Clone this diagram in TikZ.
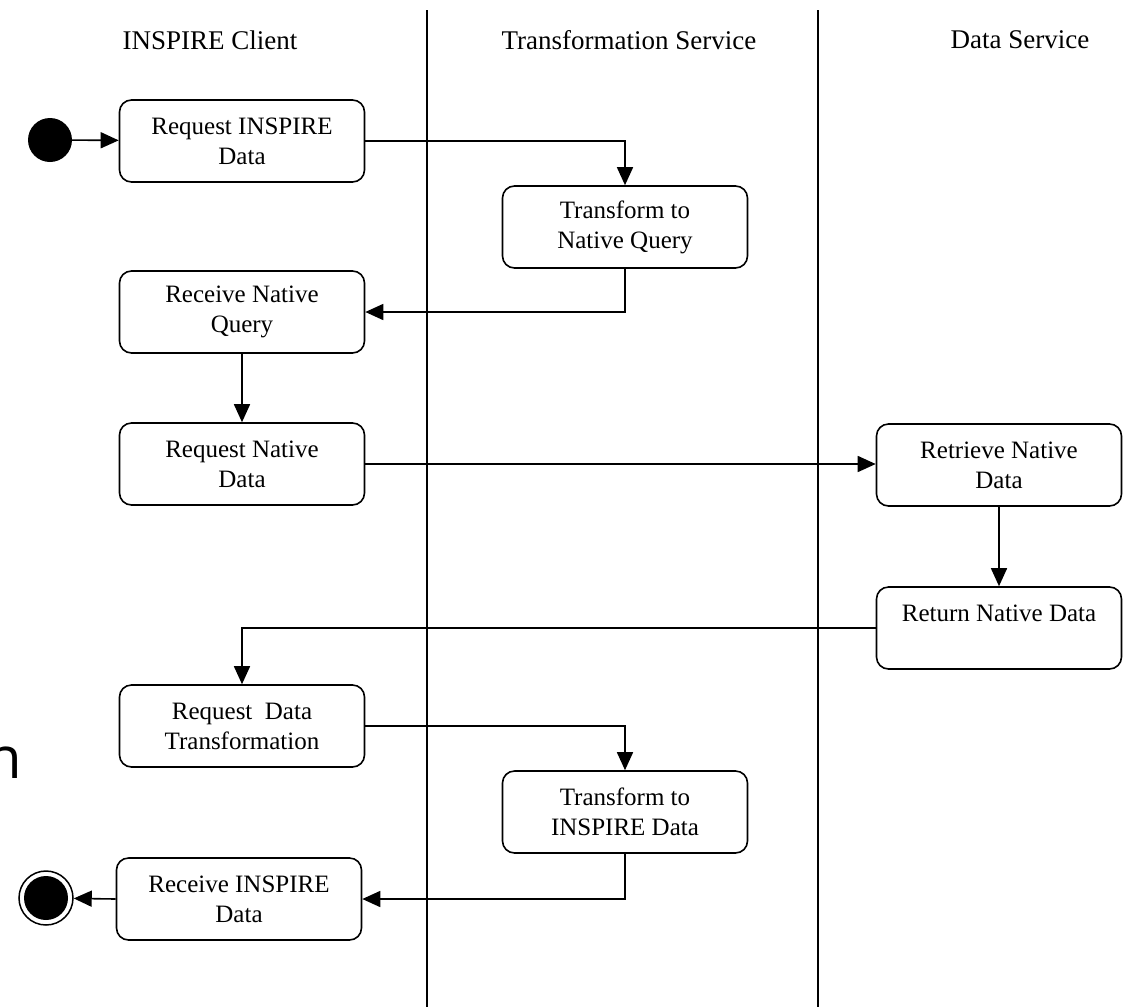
\documentclass[tikz,border=0pt]{standalone}
\usepackage{fontspec}
\setmainfont{Liberation Serif}
\newfontfamily\artfont{Open Sans}
\usetikzlibrary{arrows.meta}
\begin{document}
\begin{tikzpicture}[x=1pt,y=-1pt,
  act/.style={draw,line width=1.6pt,rounded corners=12pt,minimum width=245pt,minimum height=82pt,align=center,inner sep=0pt,font=\fontsize{25}{30}\selectfont},
  conn/.style={line width=1.6pt,-{Triangle[length=18pt,width=16pt]}},
  lane/.style={line width=1.5pt},
  lanetitle/.style={font=\fontsize{27}{32}\selectfont,inner sep=0pt}]
\useasboundingbox (0,0) rectangle (1126,1007);
% swimlanes
\coordinate (l1t) at (427,10);
\coordinate (l1b) at (427,1007);
\coordinate (l2t) at (818,10);
\coordinate (l2b) at (818,1007);
\draw[lane] (l1t) -- (l1b);
\draw[lane] (l2t) -- (l2b);
\node[lanetitle] (t1) at (210,40) {INSPIRE Client};
\node[lanetitle] (t2) at (629,40) {Transformation Service};
\node[lanetitle] (t3) at (1020,40) {Data Service};
% artifact
\node[font=\artfont\fontsize{58}{58}\selectfont,anchor=base east,inner sep=0pt] (art) at (22,778) {n};
% start / end
\node[circle,fill,minimum size=44pt,inner sep=0pt] (start) at (50,140) {};
\node[circle,draw,line width=1.5pt,minimum size=54pt,inner sep=0pt] (end) at (46,898) {};
\node[circle,fill,minimum size=44pt,inner sep=0pt] (endin) at (end.center) {};
% activities
\node[act] (a1) at (242,141) {Request INSPIRE\\Data};
\node[act] (a2) at (625,227) {Transform to\\Native Query};
\node[act] (a3) at (242,312) {Receive Native\\Query};
\node[act] (a4) at (242,464) {Request Native\\Data};
\node[act] (a5) at (999,465) {Retrieve Native\\Data};
\node[act] (a6) at (999,628) {Return Native Data\\\mbox{}};
\node[act] (a7) at (242,726) {Request~ Data\\Transformation};
\node[act] (a8) at (625,812) {Transform to\\INSPIRE Data};
\node[act] (a9) at (239,899) {Receive INSPIRE\\Data};
% connectors
\draw[conn] (start) -- (a1);
\draw[conn] (a1.east) -| (a2.north);
\draw[conn] (a2.south) |- (a3.east);
\draw[conn] (a3.south) -- (a4.north);
\draw[conn] (a4.east) -- (a4.east -| a5.west);
\draw[conn] (a5.south) -- (a6.north);
\draw[conn] (a6.west) -| (a7.north);
\draw[conn] (a7.east) -| (a8.north);
\draw[conn] (a8.south) |- (a9.east);
\draw[conn] (a9.west) -- (end);
\end{tikzpicture}
\end{document}
